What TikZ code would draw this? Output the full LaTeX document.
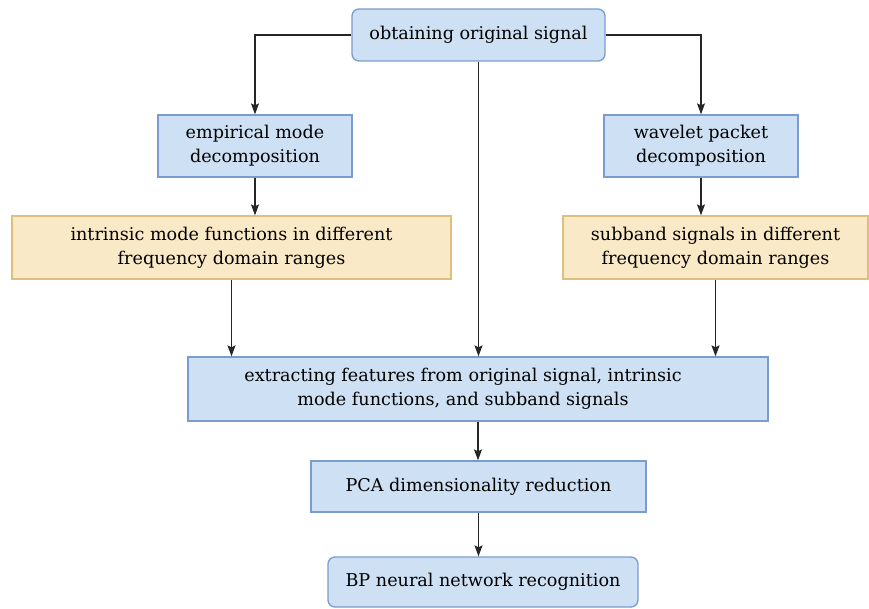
\documentclass[tikz,border=0pt]{standalone}
\usepackage{fontspec}
\setmainfont{DejaVu Serif}
\usetikzlibrary{arrows.meta}
\definecolor{bfill}{RGB}{206,224,243}
\definecolor{bdraw}{RGB}{122,156,206}
\definecolor{yfill}{RGB}{250,233,198}
\definecolor{ydraw}{RGB}{222,192,124}
\tikzset{
  txt/.style={align=center, font=\fontsize{17.6}{24}\selectfont, inner sep=0pt},
  box/.style={txt, draw=bdraw, fill=bfill, line width=1.3pt},
  rbox/.style={box, rounded corners=7pt},
  ybox/.style={box, draw=ydraw, fill=yfill},
  arr/.style={-{Stealth[length=11pt,width=8pt,inset=2pt]}, line width=1.3pt, black!85}
}
\begin{document}
\begin{tikzpicture}[x=1pt,y=-1pt]
\useasboundingbox (0,0) rectangle (869,609);
\node[rbox, minimum width=253pt, minimum height=52pt] (top) at (478.5,35) {obtaining original signal};
\node[box, minimum width=194pt, minimum height=62pt] (emd) at (255,146) {empirical mode\\decomposition};
\node[box, minimum width=194pt, minimum height=62pt] (wpd) at (701,146) {wavelet packet\\decomposition};
\node[ybox, minimum width=439pt, minimum height=63pt] (yl) at (231.5,247.5) {intrinsic mode functions in different\\frequency domain ranges};
\node[ybox, minimum width=305pt, minimum height=63pt] (yr) at (715.5,247.5) {subband signals in different\\frequency domain ranges};
\node[box, minimum width=580pt, minimum height=64pt] (ext) at (478,389) {};
\node[txt] (extt) at (463,389) {extracting features from original signal, intrinsic\\mode functions, and subband signals};
\node[box, minimum width=335pt, minimum height=51pt] (pca) at (478.5,486.5) {PCA dimensionality reduction};
\node[rbox, minimum width=310pt, minimum height=50pt] (bp) at (483,582) {BP neural network recognition};
\draw[arr] (top.west) -| (emd.north);
\draw[arr] (top.east) -| (wpd.north);
\draw[arr] (top.south) -- (top.south |- ext.north);
\draw[arr] (emd.south) -- (emd.south |- yl.north);
\draw[arr] (wpd.south) -- (wpd.south |- yr.north);
\draw[arr] (yl.south) -- (yl.south |- ext.north);
\draw[arr] (yr.south) -- (yr.south |- ext.north);
\draw[arr] (ext.south) -- (ext.south |- pca.north);
\draw[arr] (pca.south) -- (pca.south |- bp.north);
\end{tikzpicture}
\end{document}
